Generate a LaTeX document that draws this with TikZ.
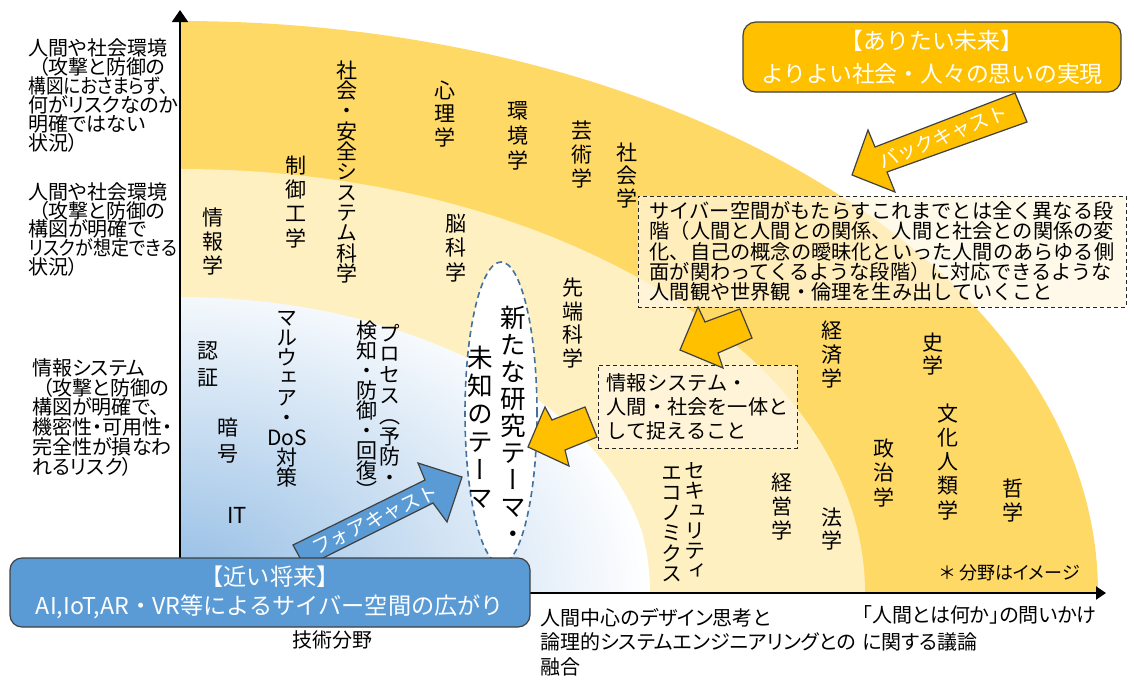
\documentclass[tikz,border=0pt]{standalone}
\usepackage{fontspec}
\usepackage{graphicx}
\setmainfont{Noto Sans CJK JP}
\newfontfamily\vjp[RawFeature=+vert]{Noto Sans CJK JP}
\newfontfamily\pjp[RawFeature=+palt]{Noto Sans CJK JP}
\usetikzlibrary{shapes.geometric,arrows.meta}
\lineskiplimit=-30pt
\definecolor{cOuter}{HTML}{FFD966}
\definecolor{cMid}{HTML}{FFF0C2}
\definecolor{cBlueC}{HTML}{92BCE4}
\definecolor{cOrange}{HTML}{FFC000}
\definecolor{cBlueBox}{HTML}{5B9BD5}
\definecolor{cEdge}{HTML}{404040}
\definecolor{cDash}{HTML}{41719C}
\definecolor{cCream}{HTML}{FFF7E0}
\newcommand\vtchar[1]{\hbox to 1em{\hss#1\hss\vrule height .88em depth .12em width 0pt}}
\newcommand\narrow[2]{\scalebox{#1}[1]{#2}}
\ExplSyntaxOn
\NewDocumentCommand\vtext{O{1.1em}m}{
  \vbox{\baselineskip=#1\relax\lineskiplimit=-100pt\relax\lineskip=0pt\relax\vskip-0.5em\relax
    \tl_map_function:nN {#2} \vtchar}
}
\ExplSyntaxOff
\begin{document}
\begin{tikzpicture}[x=0.5pt,y=-0.5pt,
  lab/.style={inner sep=0pt, anchor=north, font=\vjp\fontsize{10.5}{12}\selectfont},
  side/.style={inner sep=0pt, anchor=north west, align=left, font=\pjp\fontsize{10}{9.5}\selectfont},
  dbox/.style={draw=black!85, dash pattern=on 2pt off 1.5pt, line width=0.5pt, fill=cCream, fill opacity=0.7, text opacity=1, inner sep=0pt, align=left, font=\fontsize{10.1}{10.1}\selectfont},
  blockarrow/.style={draw=cEdge, line width=0.6pt, line join=miter},
  roundbox/.style={draw=cEdge, line width=0.6pt, rounded corners=6pt, inner sep=0pt, text=white, align=center},
  arrowtext/.style={text=white, inner sep=0pt, font=\fontsize{9.8}{10}\selectfont},
]
\useasboundingbox (0,0) rectangle (1134,681);
\coordinate (O) at (180,593);
\coordinate (Ybot) at (180,600);
\coordinate (Ytop) at (180,10);
\coordinate (Xend) at (1106,593);
% bands
\fill[cOuter] (O) -- (180,21) arc[start angle=90,end angle=0,x radius=459pt,y radius=286pt] -- cycle;
\fill[cMid] (O) -- (180,169) arc[start angle=90,end angle=0,x radius=342.5pt,y radius=212pt] -- cycle;
\begin{scope}
\clip (O) -- (180,297) arc[start angle=90,end angle=0,x radius=236pt,y radius=148pt] -- cycle;
\shade[inner color=cBlueC, outer color=white] (O) ellipse[x radius=235pt, y radius=165pt];
\end{scope}
% axes
\draw[line width=1pt, -{Triangle[length=6pt,width=8pt]}] (Ybot) -- (Ytop);
\draw[line width=1pt, -{Triangle[length=5pt,width=6.5pt]}] (O) -- (Xend);
% central ellipse
\node[ellipse, draw=cDash, line width=0.8pt, dash pattern=on 3pt off 2pt, fill=white, minimum width=36pt, minimum height=151pt, inner sep=0pt] (theme) at (501,413) {};
\node[lab, font=\vjp\fontsize{12.8}{14}\selectfont] (themeA) at (513,317) {\vtext[13.5pt]{新たな研究テーマ・}};
\node[lab, font=\vjp\fontsize{12.8}{14}\selectfont] (themeB) at (480,357) {\vtext[14pt]{未知のテーマ}};
% field labels
\node[lab] (fSocSafe) at (347,70) {\vtext[10.15pt]{社会・安全システム科学}};
\node[lab] (fCtrl) at (296,165) {\vtext[12.15pt]{制御工学}};
\node[lab] (fInfo) at (213,217) {\vtext[12pt]{情報学}};
\node[lab] (fPsy) at (445,90) {\vtext[11.75pt]{心理学}};
\node[lab] (fEnv) at (518,110) {\vtext[12.5pt]{環境学}};
\node[lab] (fArt) at (582,130) {\vtext[12pt]{芸術学}};
\node[lab] (fSoc) at (627,152) {\vtext[11.5pt]{社会学}};
\node[lab] (fBrain) at (456,223) {\vtext[12.25pt]{脳科学}};
\node[lab] (fAdv) at (573,287) {\vtext[11.85pt]{先端科学}};
\node[lab] (fAuth) at (208,350) {\vtext[13.5pt]{認証}};
\node[lab] (fCrypt) at (228,427) {\vtext[13pt]{暗号}};
\node[inner sep=0pt, font=\fontsize{11}{12}\selectfont] (fIT) at (237,515) {IT};
\node[lab] (fMal) at (287,317) {\vtext[10pt]{マルウェア・{DoS}対策}};
\node[lab] (fProcA) at (390,333) {\vtext[10.3pt]{プロセス（予防・}};
\node[lab] (fProcB) at (367,330) {\vtext[10pt]{検知・防御・回復）}};
\node[lab] (fSecA) at (695,470) {\vtext[10pt]{セキュリティ}};
\node[lab] (fSecB) at (672,472) {\vtext[10.1pt]{エコノミクス}};
\node[lab] (fEco) at (832,330) {\vtext[12pt]{経済学}};
\node[lab] (fHist) at (933,342) {\vtext[11.5pt]{史学}};
\node[lab] (fCult) at (948,413) {\vtext[12.1pt]{文化人類学}};
\node[lab] (fPol) at (884,448) {\vtext[12.25pt]{政治学}};
\node[lab] (fPhil) at (1013,488) {\vtext[12pt]{哲学}};
\node[lab] (fMgmt) at (782,482) {\vtext[12pt]{経営学}};
\node[lab] (fLaw) at (832,517) {\vtext[11.5pt]{法学}};
\node[inner sep=0pt, font=\pjp\fontsize{9}{10}\selectfont] (note) at (1010,573) {＊\hspace{2pt}分野はイメージ};
% left axis labels
\node[side] (ax1) at (28,38) {人間や社会環境\\\hspace*{0.5em}（攻撃と防御の\\\narrow{0.88}{構図におさまらず、}\\何がリスクなのか\\明確ではない\\状況）};
\node[side, font=\pjp\fontsize{10}{9.4}\selectfont] (ax2) at (28,182) {人間や社会環境\\\hspace*{0.5em}（攻撃と防御の\\構図が明確で\\\narrow{0.9}{リスクが想定できる}\\状況）};
\node[side, font=\pjp\fontsize{10}{9.9}\selectfont] (ax3) at (32,358) {情報システム\\\hspace*{0.5em}（攻撃と防御の\\構図が明確で、\\機密性・可用性・\\完全性が損なわ\\れるリスク）};
% bottom axis labels
\node[inner sep=0pt, font=\fontsize{10}{12}\selectfont] (tech) at (332,640) {技術分野};
\node[side, font=\pjp\fontsize{10}{12.25}\selectfont] (bm) at (540,608) {人間中心のデザイン思考と\\論理的システムエンジニアリングとの\\融合};
\node[side, font=\pjp\fontsize{10}{13.5}\selectfont] (br) at (862,605) {「人間とは何か」の問いかけ\\に関する議論};
% dashed boxes
\node[dbox, minimum width=244pt, minimum height=55.5pt] (bigbox) at (882,251.5) {サイバー空間がもたらすこれまでとは全く異なる段\\階（人間と人間との関係、人間と社会との関係の変\\化、自己の概念の曖昧化といった人間のあらゆる側\\面が関わってくるような段階）に対応できるような\\人間観や世界観・倫理を生み出していくこと};
\node[dbox, minimum width=99.5pt, minimum height=41.5pt, font=\fontsize{10.1}{12}\selectfont] (smallbox) at (697.5,406.5) {情報システム・\\人間・社会を一体と\\して捉えること};
% forecast arrow
\draw[blockarrow, fill=cBlueBox] (293,545) -- (425,480) -- (418,463) -- (462,477) -- (447,522) -- (433,503) -- (305,567) -- cycle;
\node[arrowtext, rotate=25.5] (fore) at (375,520) {フォアキャスト};
% boxes
\node[roundbox, fill=cBlueBox, minimum width=260pt, minimum height=34.5pt, font=\fontsize{11.6}{14.5}\selectfont] (near) at (270,592.5) {【近い将来】\\AI,IoT,AR・VR等によるサイバー空間の広がり};
\node[roundbox, fill=cOrange, rounded corners=6.5pt, minimum width=189pt, minimum height=35pt, font=\fontsize{11.4}{16.5}\selectfont] (future) at (932,57) {【ありたい未来】\\よりよい社会・人々の思いの実現};
% orange arrows
\draw[blockarrow, fill=cOrange] (1015,93) -- (875,147) -- (868,130) -- (852,175) -- (895,192) -- (887,172) -- (1027,122) -- cycle;
\node[arrowtext, rotate=22] (back) at (943,137) {バックキャスト};
\draw[blockarrow, fill=cOrange] (740,309) -- (705,322) -- (698,307) -- (680,350) -- (723,368) -- (718,353) -- (752,338) -- cycle;
\draw[blockarrow, fill=cOrange] (585,407) -- (552,420) -- (545,407) -- (528,447) -- (569,466) -- (565,450) -- (597,437) -- cycle;
\end{tikzpicture}
\end{document}
